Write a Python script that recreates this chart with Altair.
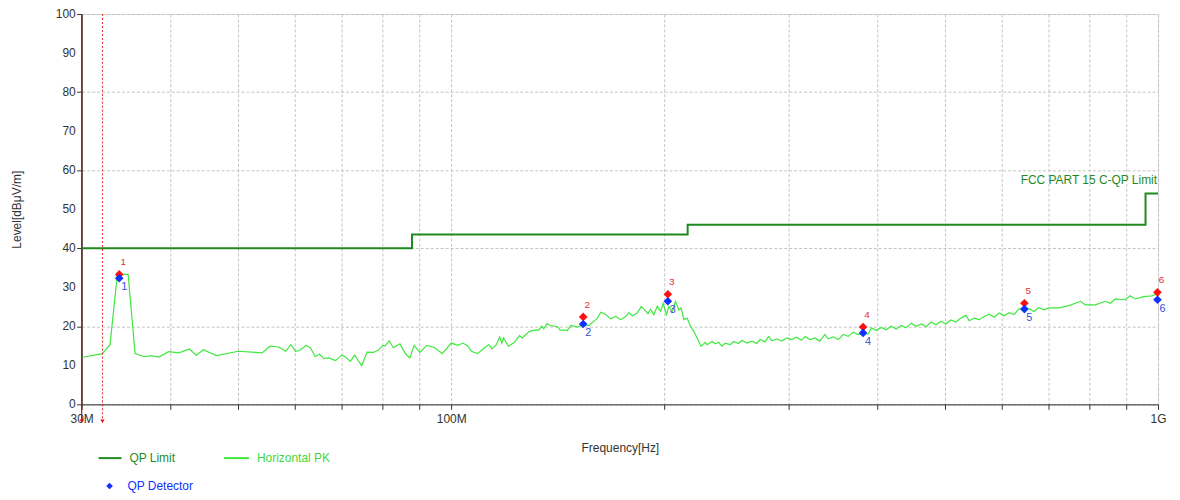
import altair as alt
import pandas as pd

# ---------------- data ----------------
trace_freq = [30.0, 32.1, 32.9, 33.7, 34.9, 35.7, 36.8, 37.6, 38.6, 39.8, 41.2, 42.6, 43.6, 44.6,
              46.5, 50.0, 54.0, 55.4, 57.0, 58.3, 59.3, 60.2, 61.0, 62.3, 63.2, 64.2, 65.1, 66.0,
              67.1, 68.6, 70.0, 70.8, 72.0, 73.0, 74.7, 76.0, 77.6, 78.9, 80.0, 80.6, 81.7, 82.8,
              84.6, 86.2, 87.4, 88.6, 90.3, 92.3, 94.8, 97.1, 100.0, 102.2, 103.9, 105.6, 106.8,
              108.9, 111.5, 113.0, 114.2, 115.8, 117.1, 117.9, 118.6, 120.5, 122.9, 124.9, 126.0,
              129.0, 131.8, 133.0, 134.3, 135.2, 136.6, 138.0, 141.4, 142.6, 144.5, 145.8, 147.7,
              150.9, 153.5, 156.7, 158.4, 160.7, 162.8, 165.4, 168.1, 170.9, 173.7, 176.5, 178.4,
              180.4, 183.3, 185.7, 187.7, 189.8, 191.4, 193.5, 195.6, 197.8, 199.4, 201.6, 203.2,
              205.4, 207.6, 209.9, 211.5, 213.3, 215.6, 218.0, 220.4, 222.7, 225.6, 228.8,
              230.1, 233.9, 236.4, 238.9, 241.5, 244.1, 248.2, 250.9, 255.0, 257.8, 262.0, 266.3,
              270.6, 273.5, 278.0, 281.1, 284.1, 288.8, 293.5, 298.3, 303.1, 308.0, 313.0, 316.6,
              321.7, 326.9, 332.3, 337.7, 341.4, 347.0, 352.8, 358.6, 364.5, 370.5, 376.6, 382.6,
              389.0, 393.1, 399.6, 406.0, 412.5, 419.4, 426.0, 433.1, 440.2, 447.5, 454.8, 462.4,
              469.8, 477.4, 485.2, 493.1, 500.9, 509.3, 517.7, 526.1, 534.8, 540.6, 549.4, 558.4,
              567.5, 576.7, 586.2, 595.8, 605.5, 615.5, 625.6, 635.8, 646.3, 657.0, 667.6, 678.0,
              689.4, 701.0, 724.0, 748.0, 777.0, 789.0, 815.0, 842.0, 856.0, 870.0, 899.0, 913.0,
              928.0, 954.0, 980.0, 996.0, 1000.0]
trace_level = [12.0, 13.0, 15.3, 33.3, 33.3, 13.0, 12.2, 12.5, 12.1, 13.5, 13.2, 14.2, 12.6, 14.0,
               12.5, 13.6, 13.2, 14.9, 14.7, 13.6, 15.3, 13.6, 13.8, 15.1, 14.5, 12.2, 12.9, 11.7,
               11.9, 11.2, 12.6, 12.2, 11.0, 12.6, 9.9, 13.4, 13.3, 13.9, 15.1, 15.0, 16.3, 14.5,
               15.5, 12.9, 11.9, 15.1, 13.3, 15.1, 14.5, 13.0, 15.7, 15.1, 15.7, 14.9, 13.6,
               13.0, 14.5, 15.3, 14.2, 15.3, 17.3, 15.7, 17.0, 14.9, 15.9, 17.6, 17.0,
               18.7, 19.1, 19.0, 20.0, 19.4, 20.7, 20.2, 19.9, 19.0, 19.0, 18.9, 20.2,
               19.8, 20.4, 20.2, 21.0, 21.9, 23.6, 23.0, 21.9, 22.5, 21.7, 22.5, 23.5,
               22.7, 23.4, 25.1, 24.2, 23.2, 24.4, 23.0, 25.1, 23.8, 25.9, 23.0, 25.1,
               23.8, 26.4, 24.2, 24.7, 21.7, 22.1, 20.0, 18.7, 17.0, 14.9, 15.9,
               15.3, 16.1, 15.5, 15.9, 14.9, 15.7, 15.3, 16.1, 15.6, 16.4, 15.7, 16.2,
               15.6, 16.6, 16.0, 17.4, 16.3, 16.8, 16.2, 17.0, 16.6, 17.2, 16.4, 17.4,
               16.6, 17.0, 16.2, 17.9, 16.8, 17.3, 16.6, 17.9, 17.4, 18.5, 17.9, 18.3,
               18.0, 19.6, 18.9, 19.7, 19.1, 20.0, 19.3, 20.2, 19.6, 20.8, 20.0, 20.6,
               19.9, 21.1, 20.4, 21.3, 20.6, 21.6, 21.1, 22.1, 22.8, 21.4, 22.1, 21.7,
               22.5, 23.1, 22.3, 23.4, 22.7, 23.5, 23.0, 24.5, 24.0, 24.5, 23.8, 24.8,
               24.2, 24.7, 24.7, 25.3, 26.4, 25.5, 25.5, 26.4, 25.9, 27.0, 26.8, 27.8,
               27.0, 27.6, 27.8, 28.3, 27.8]

limit_freq = [30, 88, 216, 960, 1000]
limit_level = [40.0, 43.5, 46.0, 54.0, 54.0]

marker_ids = ["1", "2", "3", "4", "5", "6"]
marker_freq = [33.9, 153.7, 202.5, 382.5, 647.0, 998.0]
peak_level = [33.3, 22.4, 28.2, 19.8, 25.9, 28.7]
qp_level = [32.3, 20.6, 26.4, 18.3, 24.4, 26.8]

marker_line_freq = [30.0, 32.1]
marker_line_kind = ["solid", "dashed"]

x_ticks = [30, 40, 50, 60, 70, 80, 90, 100, 200, 300, 400, 500, 600, 700, 800, 900, 1000]
y_ticks = [0, 10, 20, 30, 40, 50, 60, 70, 80, 90, 100]
y_tick_labels = ["0", "10", "20", "30", "40", "50", "60", "70", "80", "90", "100"]
limit_name = "FCC PART 15 C-QP Limit"

# ---------------- styling ----------------
W, H = 1081, 392
FONT = "Arial, Liberation Sans, sans-serif"
LIMIT_C = "#1e8a1e"
TRACE_C = "#3fe83f"
RED = "#ff1010"
BLUE = "#1030ff"

trace_df = pd.DataFrame({"f": trace_freq, "level": trace_level})
limit_df = pd.DataFrame({"f": limit_freq, "level": limit_level})
mk_df = pd.DataFrame({"id": marker_ids, "f": marker_freq, "peak": peak_level, "qp": qp_level})
ml_df = pd.DataFrame({"f": marker_line_freq, "kind": marker_line_kind})
yl_df = pd.DataFrame({"level": y_ticks, "lab": y_tick_labels})

x_axis = alt.Axis(
    values=x_ticks,
    labelExpr="datum.value == 30 ? '30M' : datum.value == 100 ? '100M' : datum.value == 1000 ? '1G' : ''",
    grid=True, gridDash=[3, 2], gridColor="#c4c4c4", gridWidth=1,
    tickSize=5, tickColor="#333333", domainColor="#333333",
    labelFontSize=12, labelColor="#333333", labelPadding=4, labelFlush=False, labelOverlap=False,
    title="Frequency[Hz]", titleFontSize=12, titleFontWeight="normal", titleColor="#333333",
    titleX=W / 2, titleY=43, titleAlign="center", titleBaseline="middle",
)
y_axis = alt.Axis(
    values=y_ticks, labels=False,
    grid=True, gridDash=[3, 2], gridColor="#c4c4c4", gridWidth=1,
    tickSize=5, tickColor="#333333", domainColor="#333333",
    title="Level[dBμV/m]", titleFontSize=12, titleFontWeight="normal", titleColor="#333333",
    titleX=-65, titleY=H / 2, titleAngle=270, titleAlign="center", titleBaseline="middle",
)

xs = alt.Scale(type="log", domain=[30, 1000], nice=False)
ys = alt.Scale(domain=[0, 100], nice=False, zero=True)


def X(field="f"):
    return alt.X(f"{field}:Q", scale=xs, axis=x_axis)


def Y(field="level"):
    return alt.Y(f"{field}:Q", scale=ys, axis=y_axis)


trace = alt.Chart(trace_df).mark_line(color=TRACE_C, strokeWidth=1.2).encode(x=X(), y=Y())
limit = alt.Chart(limit_df).mark_line(color=LIMIT_C, strokeWidth=2, interpolate="step-after").encode(x=X(), y=Y())

# y-axis tick labels (every 10)
y_labels = alt.Chart(yl_df).mark_text(
    color="#333333", fontSize=12, align="right", baseline="middle", font=FONT
).encode(x=alt.value(-6), y=Y(), text="lab:N")

limit_label = alt.Chart(alt.Data(values=[{"t": limit_name}])).mark_text(
    color=LIMIT_C, fontSize=12, align="right", baseline="middle", dx=-1, font=FONT
).encode(x=alt.datum(1000, scale=xs), y=alt.datum(57.4, scale=ys), text="t:N")

# marker lines (solid at 30M, dashed at 32.1M) with small arrowheads
ml_solid = alt.Chart(ml_df).transform_filter("datum.kind == 'solid'").mark_rule(
    color="#a01818", strokeWidth=1.2
).encode(x=X(), y=alt.value(0), y2=alt.value(H + 18))
ml_dash = alt.Chart(ml_df).transform_filter("datum.kind == 'dashed'").mark_rule(
    color="#e02020", strokeWidth=1, strokeDash=[2, 2]
).encode(x=X(), y=alt.value(0), y2=alt.value(H + 18))
ml_arrow = alt.Chart(ml_df).mark_point(
    shape="triangle-down", filled=True, color="#e01010", size=18, opacity=1
).encode(x=X(), y=alt.value(H + 17))

peaks = alt.Chart(mk_df).mark_point(shape="diamond", filled=True, color=RED, size=75, opacity=1).encode(
    x=X(), y=Y("peak"))
qps = alt.Chart(mk_df).mark_point(shape="diamond", filled=True, color=BLUE, size=75, opacity=1).encode(
    x=X(), y=Y("qp"))
peak_txt = alt.Chart(mk_df).mark_text(color="#e03030", fontSize=10, dx=4, dy=-12, font=FONT).encode(
    x=X(), y=Y("peak"), text="id:N")
qp_txt = alt.Chart(mk_df).mark_text(color="#3050e0", fontSize=11, dx=5, dy=9, font=FONT).encode(
    x=X(), y=Y("qp"), text="id:N")

# legend (drawn below the plot)
one = alt.Data(values=[{"a": 1}])
leg_l1 = alt.Chart(one).mark_rule(color=LIMIT_C, strokeWidth=2).encode(
    x=alt.value(17), x2=alt.value(40), y=alt.value(446))
leg_t1 = alt.Chart(one).mark_text(color=LIMIT_C, fontSize=12, align="left", baseline="middle", font=FONT).encode(
    x=alt.value(48), y=alt.value(446), text=alt.value("QP Limit"))
leg_l2 = alt.Chart(one).mark_rule(color=TRACE_C, strokeWidth=2).encode(
    x=alt.value(143), x2=alt.value(168), y=alt.value(446))
leg_t2 = alt.Chart(one).mark_text(color="#3fd83f", fontSize=12, align="left", baseline="middle", font=FONT).encode(
    x=alt.value(176), y=alt.value(446), text=alt.value("Horizontal PK"))
leg_p3 = alt.Chart(one).mark_point(shape="diamond", filled=True, color=BLUE, size=45, opacity=1).encode(
    x=alt.value(28), y=alt.value(474))
leg_t3 = alt.Chart(one).mark_text(color=BLUE, fontSize=12, align="left", baseline="middle", font=FONT).encode(
    x=alt.value(46), y=alt.value(474), text=alt.value("QP Detector"))

chart = alt.layer(
    trace, limit, y_labels, limit_label, ml_solid, ml_dash, ml_arrow, peaks, qps, peak_txt, qp_txt,
    leg_l1, leg_t1, leg_l2, leg_t2, leg_p3, leg_t3,
).properties(
    width=W, height=H,
    padding={"left": 74, "top": 5, "right": 14, "bottom": 95},
    autosize=alt.AutoSizeParams(type="none"),
    background="white",
).configure_view(stroke=None).configure(font=FONT)

chart.save("out.html", embed_options={"renderer": "svg", "actions": False})
